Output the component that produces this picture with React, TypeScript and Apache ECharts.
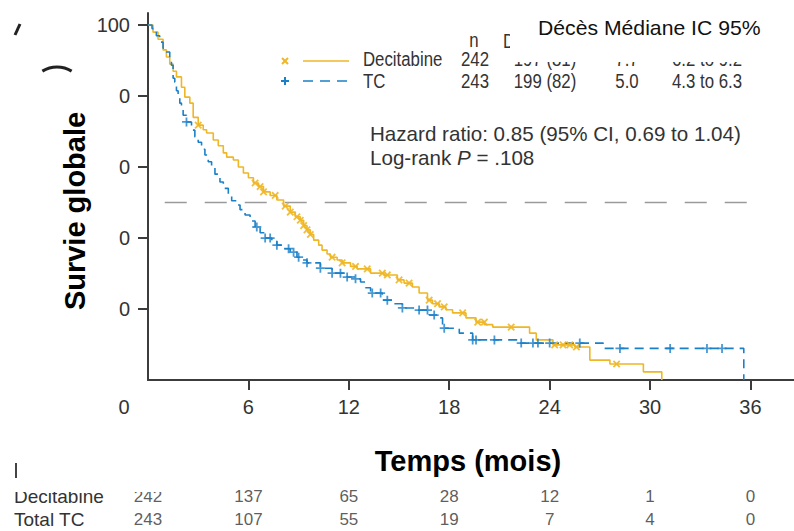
import React, { useEffect, useRef } from 'react';
import * as echarts from 'echarts';

const tickMonths = [6, 12, 18, 24, 30, 36];
const riskMonths = [0, 6, 12, 18, 24, 30, 36];
const yTickValues = [20, 40, 60, 80, 100];
const yTickLabels: Record<number, string> = { 20: '0', 40: '0', 60: '0', 80: '0', 100: '100' };

const decitabineCurve: [number, number][] = [
  [0, 100], [0.3, 98], [0.6, 96], [0.9, 93], [1.1, 91], [1.3, 89], [1.5, 87], [1.7, 85.4], [2.0, 82.5],
  [2.2, 79.7], [2.5, 78], [2.7, 74], [3.0, 71.8], [3.3, 70.5], [3.5, 69.6], [3.9, 67.6], [4.2, 66],
  [4.5, 64], [4.7, 62.8], [5.1, 62], [5.4, 60], [5.7, 58.3], [6.0, 57], [6.3, 55.5], [6.6, 54.5],
  [6.9, 53], [7.3, 52], [7.7, 50.7], [8.1, 49], [8.5, 47.3], [8.8, 46], [9.1, 45], [9.3, 43.5],
  [9.5, 42.3], [9.7, 41], [9.9, 39.4], [10.2, 38], [10.4, 36.6], [10.7, 35.5], [10.9, 34.6],
  [11.3, 33.8], [11.6, 33], [12.1, 32], [12.5, 31.3], [13.3, 30.1], [14.1, 29.6], [14.9, 28.2],
  [15.3, 27.3], [15.8, 26.2], [16.2, 24.5], [16.7, 22.5], [17.0, 21.5], [17.4, 20.6], [17.8, 19.8],
  [18.2, 18.9], [19.0, 17.5], [19.6, 16.3], [20.1, 15.6], [20.6, 14.9], [22.8, 13.2], [23.2, 11.3],
  [24.2, 9.9], [25.5, 9.3], [26.4, 5.6], [27.6, 4.5], [29.6, 2.3], [30.7, 0]
];

const tcCurve: [number, number][] = [
  [0, 100], [0.24, 99], [0.5, 97], [0.7, 95.2], [0.9, 93.5], [1.1, 92.4], [1.3, 90.5], [1.4, 88.7],
  [1.5, 85], [1.6, 83.9], [1.7, 81.5], [1.8, 79.4], [1.9, 78], [2.0, 77], [2.1, 74.6], [2.3, 72.7], [2.6, 70.4], [2.8, 68.5],
  [3.0, 67], [3.2, 65], [3.4, 63.4], [3.6, 61.5], [3.8, 59.7], [4.0, 58], [4.3, 55.8], [4.5, 54],
  [4.8, 52.1], [5.0, 50.5], [5.3, 49.3], [5.5, 48], [5.8, 46.5], [6.1, 44.8], [6.4, 43.1], [6.7, 41.5],
  [7.0, 40], [7.4, 39], [7.7, 38], [8.1, 37], [8.5, 36], [8.9, 34.6], [9.2, 33.8], [9.5, 33],
  [10.3, 31.5], [11.0, 30.1], [11.9, 29], [12.4, 28.5], [12.7, 27.6], [13.0, 26], [13.3, 24.5],
  [14.0, 22.5], [14.6, 21.5], [15.2, 20.3], [16.1, 19.7], [16.8, 18.3], [17.3, 17.5], [17.6, 14.6],
  [18.6, 13.2], [19.4, 11.3], [22.2, 10.4], [27.2, 8.9], [35.6, 0]
];

const decitabineCensored: [number, number][] = [
  [3.0, 71.8], [6.4, 55.5], [6.7, 54.5], [6.9, 53], [7.6, 52], [8.2, 49], [8.5, 47.3], [8.9, 46],
  [9.1, 45], [9.3, 43.5], [9.5, 42.3], [9.7, 41], [11.0, 34.6], [11.6, 33], [12.4, 32], [13.1, 31.3],
  [14.0, 30.1], [14.3, 29.6], [15.0, 28.2], [15.6, 27.3], [16.8, 22.5], [17.3, 21.5], [17.7, 20.6],
  [18.8, 18.9], [19.7, 16.3], [20.1, 16.3], [21.7, 14.9], [24.3, 9.9], [24.8, 9.9], [25.2, 9.9],
  [25.6, 9.3], [28.0, 4.5]
];

const tcCensored: [number, number][] = [
  [2.3, 72.7], [6.5, 43.1], [7.0, 40], [7.3, 40], [7.7, 38], [8.4, 37], [8.7, 36], [9.0, 34.6],
  [9.5, 33], [10.3, 31.5], [11.0, 30.1], [11.5, 30.1], [11.9, 29], [12.4, 28.5], [13.4, 24.5],
  [13.9, 24.5], [14.3, 22.5], [15.2, 20.3], [16.2, 19.7], [16.7, 19.7], [17.1, 18.3], [17.7, 14.6],
  [19.4, 11.3], [19.6, 11.3], [20.7, 11.3], [22.3, 10.4], [23.0, 10.4], [23.3, 10.4], [24.0, 10.4],
  [25.8, 10.4], [28.2, 8.9], [31.2, 8.9], [33.4, 8.9], [34.3, 8.9]
];

const medianLine: [number, number][] = [[1.0, 50], [36.5, 50]];

const riskRows = ['Total TC', 'Decitabine'];
const atRiskDecitabine = [242, 137, 65, 28, 12, 1, 0];
const atRiskTC = [243, 107, 55, 19, 7, 4, 0];

const tableHeader = ['n', 'Deaths (%)'];
const tableRows = [
  ['Decitabine', '242', '197 (81)', '7.7', '6.2 to 9.2'],
  ['TC', '243', '199 (82)', '5.0', '4.3 to 6.3']
];
const frenchHeader = 'Décès Médiane IC 95%';
const hazardText = 'Hazard ratio: 0.85 (95% CI, 0.69 to 1.04)';
const yTitle = 'Survie globale';
const xTitle = 'Temps (mois)';

const YELLOW = '#EFB726';
const BLUE = '#1A80C8';
const AXIS = '#3c3c3c';
const TEXT = '#333333';
const SANS = '"Liberation Sans", Arial, Helvetica, sans-serif';
const NARROW_SCALE = 0.8;

const crossPath = 'path://M4,0H6V4H10V6H6V10H4V6H0V4H4Z';

function narrowText(x: number, y: number, text: string, align: string, fontSize: number, z = 40) {
  return {
    type: 'text', z, x, y, scaleX: NARROW_SCALE,
    style: { x: 0, y: 0, text, align, verticalAlign: 'middle', fontFamily: SANS, fontSize, fill: TEXT }
  };
}

export default function App() {
  const ref = useRef<HTMLDivElement>(null);
  useEffect(() => {
    if (!ref.current) return;
    const chart = echarts.init(ref.current, undefined, { renderer: 'svg' });

    const tableCols = [
      { x: 363, align: 'left' },
      { x: 475, align: 'center' },
      { x: 545, align: 'center' },
      { x: 627, align: 'center' },
      { x: 707, align: 'center' }
    ];
    const rowY = [59, 81];
    const tableTexts: any[] = [];
    tableRows.forEach((row, r) => {
      row.forEach((cell, c) => {
        tableTexts.push(narrowText(tableCols[c].x, rowY[r], cell, tableCols[c].align, 21));
      });
    });

    const riskLabel = {
      show: true, position: 'inside', formatter: (p: any) => String(p.value[2]),
      fontFamily: SANS, fontSize: 17, color: TEXT
    };

    const option: any = {
      animation: false,
      grid: [
        { left: 148, right: 0, top: 13, bottom: 151 },
        { left: 148, right: 0, top: 485, height: 48 }
      ],
      xAxis: [
        {
          type: 'value', min: 0, max: 38.6, gridIndex: 0,
          axisLine: { show: true, lineStyle: { color: AXIS, width: 2 } },
          axisTick: { show: true, customValues: tickMonths, length: 10, lineStyle: { color: AXIS, width: 2 } },
          axisLabel: { customValues: tickMonths, fontFamily: SANS, fontSize: 20, color: TEXT, margin: 17 },
          splitLine: { show: false }
        },
        { type: 'value', min: 0, max: 38.6, gridIndex: 1, show: false }
      ],
      yAxis: [
        {
          type: 'value', min: 0, max: 103.4, gridIndex: 0,
          axisLine: { show: true, lineStyle: { color: AXIS, width: 2 } },
          axisTick: { show: true, customValues: yTickValues, length: 10, lineStyle: { color: AXIS, width: 2 } },
          axisLabel: {
            customValues: yTickValues, fontFamily: SANS, fontSize: 20, color: TEXT, margin: 18,
            formatter: (v: number) => yTickLabels[v] ?? ''
          },
          splitLine: { show: false }
        },
        {
          type: 'category', data: riskRows, gridIndex: 1,
          axisLine: { show: false }, axisTick: { show: false }, splitLine: { show: false },
          axisLabel: { interval: 0, align: 'left', margin: 134, fontFamily: SANS, fontSize: 19, color: TEXT }
        }
      ],
      series: [
        {
          type: 'line', data: medianLine, xAxisIndex: 0, yAxisIndex: 0, showSymbol: false, silent: true,
          lineStyle: { color: '#9a9a9a', width: 1.6, type: [22, 18] }, z: 1
        },
        {
          type: 'line', name: 'Decitabine', data: decitabineCurve, step: 'end', showSymbol: false,
          lineStyle: { color: YELLOW, width: 1.6 }, z: 3
        },
        {
          type: 'line', name: 'TC', data: tcCurve, step: 'end', showSymbol: false,
          lineStyle: { color: BLUE, width: 1.6, type: [9, 6] }, z: 3
        },
        {
          type: 'scatter', data: decitabineCensored, symbol: crossPath, symbolSize: 9, symbolRotate: 45,
          itemStyle: { color: YELLOW, opacity: 0.9 }, z: 4
        },
        {
          type: 'scatter', data: tcCensored, symbol: crossPath, symbolSize: 9,
          itemStyle: { color: BLUE }, z: 4
        },
        {
          type: 'scatter', xAxisIndex: 1, yAxisIndex: 1, symbolSize: 0,
          data: riskMonths.map((m, i) => [m, 'Decitabine', atRiskDecitabine[i]]),
          label: riskLabel
        },
        {
          type: 'scatter', xAxisIndex: 1, yAxisIndex: 1, symbolSize: 0,
          data: riskMonths.map((m, i) => [m, 'Total TC', atRiskTC[i]]),
          label: riskLabel
        }
      ],
      graphic: [
        // misplaced "0" tick label
        { type: 'text', z: 40, style: { x: 124, y: 407, text: '0', align: 'center', verticalAlign: 'middle', fontFamily: SANS, fontSize: 20, fill: TEXT } },
        // table headers
        narrowText(474, 40, tableHeader[0], 'center', 21),
        narrowText(503, 41, tableHeader[1], 'left', 21),
        ...tableTexts,
        // legend samples
        { type: 'line', z: 40, shape: { x1: 282, y1: 58, x2: 288, y2: 64 }, style: { stroke: YELLOW, lineWidth: 2 } },
        { type: 'line', z: 40, shape: { x1: 282, y1: 64, x2: 288, y2: 58 }, style: { stroke: YELLOW, lineWidth: 2 } },
        { type: 'line', z: 40, shape: { x1: 303, y1: 61, x2: 349, y2: 61 }, style: { stroke: YELLOW, lineWidth: 1.6 } },
        { type: 'line', z: 40, shape: { x1: 281, y1: 81, x2: 289, y2: 81 }, style: { stroke: BLUE, lineWidth: 2 } },
        { type: 'line', z: 40, shape: { x1: 285, y1: 77, x2: 285, y2: 85 }, style: { stroke: BLUE, lineWidth: 2 } },
        { type: 'line', z: 40, shape: { x1: 303, y1: 81, x2: 349, y2: 81 }, style: { stroke: BLUE, lineWidth: 1.6, lineDash: [10, 7] } },
        // white overlay box + French header
        { type: 'rect', z: 60, shape: { x: 510, y: 0, width: 284, height: 62 }, style: { fill: '#ffffff' } },
        { type: 'text', z: 61, x: 538, y: 28, scaleX: 1.06, style: { x: 0, y: 0, text: frenchHeader, align: 'left', verticalAlign: 'middle', fontFamily: SANS, fontSize: 20, fill: '#111' } },
        // hazard ratio
        { type: 'text', z: 40, style: { x: 370, y: 133, text: hazardText, align: 'left', verticalAlign: 'middle', fontFamily: SANS, fontSize: 20.6, fill: TEXT } },
        {
          type: 'text', z: 40, style: {
            x: 370, y: 157, verticalAlign: 'middle', align: 'left',
            text: '{a|Log-rank }{i|P}{a| = .108}',
            rich: {
              a: { fontFamily: SANS, fontSize: 20.6, fill: TEXT },
              i: { fontFamily: SANS, fontSize: 20.6, fontStyle: 'italic', fill: TEXT }
            }
          }
        },
        // axis titles
        { type: 'text', z: 40, x: 75, y: 211, rotation: Math.PI / 2, style: { x: 0, y: 0, text: yTitle, align: 'center', verticalAlign: 'middle', fontFamily: SANS, fontWeight: 'bold', fontSize: 29, fill: '#000' } },
        { type: 'text', z: 40, style: { x: 468, y: 461, text: xTitle, align: 'center', verticalAlign: 'middle', fontFamily: SANS, fontWeight: 'bold', fontSize: 29, fill: '#000' } },
        // white cover clipping top of risk row
        { type: 'rect', z: 60, shape: { x: 0, y: 478, width: 175, height: 14 }, style: { fill: '#ffffff' } },
        // stray remnants
        { type: 'line', z: 40, shape: { x1: 16, y1: 463, x2: 16, y2: 479 }, style: { stroke: '#444', lineWidth: 2 } },
        { type: 'line', z: 40, shape: { x1: 15, y1: 35, x2: 20, y2: 24 }, style: { stroke: '#222', lineWidth: 3 } },
        { type: 'arc', z: 40, shape: { cx: 57, cy: 95, r: 28, startAngle: -Math.PI / 2 - 0.55, endAngle: -Math.PI / 2 + 0.55, clockwise: true }, style: { stroke: '#222', lineWidth: 3, fill: 'none' } }
      ]
    };
    chart.setOption(option);
    return () => chart.dispose();
  }, []);
  return <div ref={ref} style={{ position: 'absolute', left: 0, top: 0, width: 794, height: 531 }} />;
}
